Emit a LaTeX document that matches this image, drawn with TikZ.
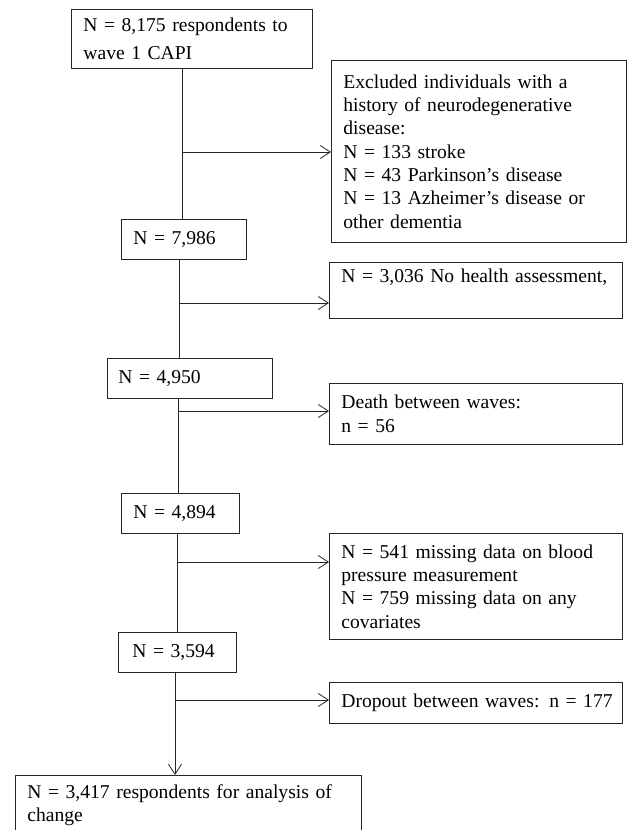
\documentclass[tikz,border=0pt]{standalone}
\usepackage{fontspec}
\setmainfont{Liberation Serif}
\usetikzlibrary{arrows.meta}
\begin{document}
\begin{tikzpicture}[x=1pt,y=-1pt,
 fbox/.style={draw=black!85, line width=0.8pt, anchor=north west, align=left,
   inner xsep=12pt, inner ysep=0pt, font=\fontsize{19.6}{23.3}\selectfont,
   execute at begin node={\hyphenpenalty=10000\exhyphenpenalty=10000}},
 link/.style={draw=black!85, line width=0.8pt},
 arr/.style={link, -{Straight Barb[length=10pt,width=13pt]}}]
\useasboundingbox (0,0) rectangle (627,830);
% main column
\node[fbox, text width=217pt, minimum height=59pt, font=\fontsize{19.6}{28}\selectfont] (b1) at (71,9)
  {\mbox{N = 8,175 respondents to}\\wave 1 CAPI};
\node[fbox, text width=101pt, minimum height=40pt] (b3) at (121,219) {\mbox{N = 7,986}};
\node[fbox, text width=143pt, minimum height=40pt, inner xsep=11pt] (b5) at (107,358) {\mbox{N = 4,950}};
\node[fbox, text width=94pt, minimum height=40pt] (b7) at (121,493) {\mbox{N = 4,894}};
\node[fbox, text width=90pt, minimum height=40pt, inner xsep=14pt] (b9) at (118,632) {\mbox{N = 3,594}};
\node[fbox, text width=322pt, minimum height=60pt] (b11) at (15,775)
  {\mbox{N = 3,417 respondents for analysis of}\\change};
% side boxes
\node[fbox, text width=271pt, minimum height=182pt] (b2) at (331,60)
  {\mbox{Excluded individuals with a}\\\mbox{history of neurodegenerative}\\disease:\\N = 133 stroke\\\mbox{N = 43 Parkinson’s disease}\\\mbox{N = 13 Azheimer’s disease or}\\other dementia};
\node[fbox, text width=269pt, minimum height=56pt] (b4) at (329,262)
  {\mbox{N = 3,036 No health assessment,}\\\strut};
\node[fbox, text width=269pt, minimum height=61pt] (b6) at (329,383)
  {\mbox{Death between waves:}\\n = 56};
\node[fbox, text width=269pt, minimum height=106pt] (b8) at (329,533)
  {\mbox{N = 541 missing data on blood}\\\mbox{pressure measurement}\\\mbox{N = 759 missing data on any}\\covariates};
\node[fbox, text width=269pt, minimum height=41pt] (b10) at (329,682)
  {\mbox{Dropout between waves: n = 177}};
% spine coordinates
\coordinate (s1) at (182,0);
\coordinate (s2) at (179,0);
\coordinate (s3) at (178,0);
\coordinate (s4) at (177,0);
\coordinate (s5) at (175,0);
\draw[link] (b1.south -| s1) -- (b3.north -| s1);
\draw[link] (b3.south -| s2) -- (b5.north -| s2);
\draw[link] (b5.south -| s3) -- (b7.north -| s3);
\draw[link] (b7.south -| s4) -- (b9.north -| s4);
\draw[arr] (b9.south -| s5) -- (b11.north -| s5);
% side arrows
\coordinate (a1) at (182,152);
\coordinate (a2) at (179,303);
\coordinate (a3) at (178,411);
\coordinate (a4) at (177,562);
\coordinate (a5) at (175,700);
\draw[arr] (a1) -- (a1 -| b2.west);
\draw[arr] (a2) -- (a2 -| b4.west);
\draw[arr] (a3) -- (a3 -| b6.west);
\draw[arr] (a4) -- (a4 -| b8.west);
\draw[arr] (a5) -- (a5 -| b10.west);
\end{tikzpicture}
\end{document}
